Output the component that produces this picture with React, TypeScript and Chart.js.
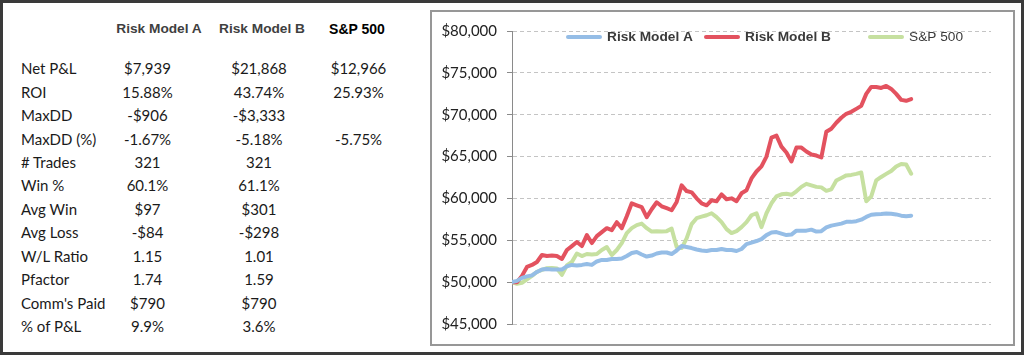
import React, { useEffect, useRef } from "react";
import { Chart, registerables } from "chart.js";

Chart.register(...registerables);

// ---------- data ----------
const seriesNames = ["Risk Model A", "Risk Model B", "S&P 500"];

const riskModelA = [
  50000, 50150, 50510, 50690, 50810, 51220, 51520, 51580, 51520, 51520, 51520,
  51880, 52060, 52000, 52060, 52170, 52060, 52470, 52650, 52650, 52770, 52770,
  52830, 53120, 53480, 53600, 53300, 53060, 53180, 53420, 53540, 53540, 53360,
  53780, 54310, 54190, 54070, 53900, 53780, 53720, 53840, 53840, 53960, 53840,
  53840, 53720, 53960, 54550, 54730, 54910, 55140, 55620, 55920, 55980, 55800,
  55620, 55680, 56150, 56150, 56150, 56270, 56040, 56090, 56530, 56750, 56870,
  56990, 57200, 57200, 57280, 57460, 57790, 58050, 58110, 58130, 58200, 58170,
  58090, 57940, 57880, 57940,
];

const riskModelB = [
  50000, 49980, 50750, 51820, 52050, 52410, 53240, 53120, 53180, 53120, 52770,
  53840, 54310, 54790, 54310, 55620, 54670, 55500, 55980, 56450, 56210, 57160,
  56450, 57880, 59420, 59180, 58950, 57760, 58710, 59540, 59060, 58830, 58590,
  59580, 61560, 60880, 60730, 60010, 59420, 59180, 59780, 59660, 60490, 59900,
  60010, 59660, 60610, 60970, 62390, 63220, 63820, 65000, 67260, 67500, 66190,
  65480, 64410, 66070, 66070, 65600, 65240, 65120, 64890, 67970, 68330, 69040,
  69640, 70110, 70350, 70700, 71060, 72490, 73320, 73320, 73200, 73440, 73080,
  72490, 71770, 71660, 71870,
];

const sp500 = [
  50000, 49800, 49920, 50330, 50750, 51220, 51460, 51660, 51700, 51640, 50870,
  52000, 52410, 53420, 53120, 53360, 53300, 53360, 53840, 54190, 53240, 53840,
  54670, 55860, 56450, 56810, 56990, 56450, 56040, 56090, 56040, 56090, 56390,
  54190, 54070, 55230, 56930, 57640, 57820, 57990, 58230, 57760, 57160, 56330,
  55860, 56090, 56570, 57160, 57990, 58230, 56570, 58230, 59420, 60250, 60490,
  60550, 60430, 60850, 61380, 61740, 61560, 61380, 61320, 60910, 61080, 62150,
  62450, 62750, 62810, 62930, 63100, 59660, 60250, 62150, 62570, 62930, 63280,
  63820, 64110, 64050, 62950,
];

const seriesValues = [riskModelA, riskModelB, sp500];
const seriesColors = ["#95bde6", "#e3525f", "#c6e0a0"];

const xSlots = 96; // x axis extends past the last data point
const yMin = 45000;
const yMax = 80000;
const yStep = 5000;

const tableHeaders = ["Risk Model A", "Risk Model B", "S&P 500"];
const rowLabels = [
  "Net P&L",
  "ROI",
  "MaxDD",
  "MaxDD (%)",
  "# Trades",
  "Win %",
  "Avg Win",
  "Avg Loss",
  "W/L Ratio",
  "Pfactor",
  "Comm's Paid",
  "% of P&L",
];
const colA = ["$7,939", "15.88%", "-$906", "-1.67%", "321", "60.1%", "$97", "-$84", "1.15", "1.74", "$790", "9.9%"];
const colB = ["$21,868", "43.74%", "-$3,333", "-5.18%", "321", "61.1%", "$301", "-$298", "1.01", "1.59", "$790", "3.6%"];
const colSP = ["$12,966", "25.93%", "", "-5.75%", "", "", "", "", "", "", "", ""];

// ---------- layout ----------
const TABLE_FONT = "Lato, 'Noto Sans', sans-serif";
const HEAD_FONT = "'Liberation Sans', Arial, sans-serif";
const ROW_Y0 = 68.3;
const ROW_STEP = 23.43;
const COL_CENTERS = [147.5, 259, 358.5];
const HEAD_CENTERS = [159, 262, 357];
const LEGEND_POS = [134, 272, 436];

const fmtMoney = (v: number) => "$" + Math.round(v).toLocaleString("en-US");

const legendPlugin = {
  id: "excelLegend",
  afterDraw(chart: any) {
    const ctx = chart.ctx as CanvasRenderingContext2D;
    const y = 25;
    chart.data.datasets.forEach((ds: any, i: number) => {
      const x = LEGEND_POS[i];
      ctx.save();
      ctx.strokeStyle = ds.borderColor;
      ctx.lineWidth = 4;
      ctx.lineCap = "round";
      ctx.beginPath();
      ctx.moveTo(x + 2, y);
      ctx.lineTo(x + 34, y);
      ctx.stroke();
      ctx.fillStyle = "#3a3a3a";
      ctx.font = (i < 2 ? "bold " : "") + "13.7px " + HEAD_FONT;
      ctx.textBaseline = "middle";
      ctx.textAlign = "left";
      ctx.fillText(ds.label, x + 41, y + 0.5);
      ctx.restore();
    });
  },
};

function EquityChart() {
  const ref = useRef<HTMLCanvasElement | null>(null);
  useEffect(() => {
    if (!ref.current) return;
    const chart = new Chart(ref.current, {
      type: "line",
      data: {
        datasets: seriesNames.map((name, i) => ({
          label: name,
          data: seriesValues[i].map((v, k) => ({ x: k, y: v })),
          borderColor: seriesColors[i],
          backgroundColor: seriesColors[i],
          borderWidth: 4,
          pointRadius: 0,
          tension: 0,
          borderCapStyle: "round" as const,
          borderJoinStyle: "round" as const,
          fill: false,
        })),
      },
      options: {
        responsive: false,
        animation: false,
        layout: { padding: { top: 17, bottom: 20, right: 22, left: 0 } },
        plugins: {
          legend: { display: false },
          tooltip: { enabled: false },
        },
        scales: {
          x: {
            type: "linear",
            min: 0,
            max: xSlots,
            display: false,
          },
          y: {
            min: yMin,
            max: yMax,
            afterFit(scale: any) {
              scale.width = 80;
            },
            ticks: {
              stepSize: yStep,
              padding: 10,
              color: "#222",
              font: { family: TABLE_FONT, size: 15 },
              callback: (v: any) => fmtMoney(Number(v)),
            },
            grid: {
              color: "#c4c4c4",
              lineWidth: 1,
              tickColor: "#8a8a8a",
              tickLength: 5,
              tickBorderDash: [],
            },
            border: {
              display: true,
              color: "#8a8a8a",
              width: 1,
              dash: [4, 3],
            },
          },
        },
      },
      plugins: [legendPlugin],
    });
    return () => chart.destroy();
  }, []);
  return <canvas ref={ref} width={581} height={332} style={{ width: 581, height: 332, display: "block" }} />;
}

export default function App() {
  const cellBase: React.CSSProperties = {
    position: "absolute",
    height: 20,
    lineHeight: "20px",
    whiteSpace: "nowrap",
    fontFamily: TABLE_FONT,
    fontSize: 15,
    color: "#1a1a1a",
  };
  return (
    <div
      style={{
        position: "absolute",
        left: 0,
        top: 0,
        width: 1024,
        height: 355,
        background: "#fff",
        overflow: "hidden",
      }}
    >
      {tableHeaders.map((h, i) => (
        <div
          key={"h" + i}
          style={{
            ...cellBase,
            left: HEAD_CENTERS[i] - 60,
            width: 120,
            top: 29 - 10,
            textAlign: "center",
            fontFamily: HEAD_FONT,
            fontWeight: "bold",
            fontSize: i === 2 ? 14 : 13.7,
            color: i === 2 ? "#000" : "#3f3f3f",
          }}
        >
          {h}
        </div>
      ))}
      {rowLabels.map((lab, r) => {
        const top = ROW_Y0 + r * ROW_STEP - 10;
        const vals = [colA[r], colB[r], colSP[r]];
        return (
          <React.Fragment key={"r" + r}>
            <div style={{ ...cellBase, left: 21, top }}>{lab}</div>
            {vals.map((v, c) => (
              <div
                key={c}
                style={{ ...cellBase, left: COL_CENTERS[c] - 50, width: 100, top, textAlign: "center" }}
              >
                {v}
              </div>
            ))}
          </React.Fragment>
        );
      })}
      <div
        style={{
          position: "absolute",
          left: 430,
          top: 10,
          width: 585,
          height: 336,
          boxSizing: "border-box",
          border: "2px solid #979797",
          background: "#fff",
        }}
      />
      <div style={{ position: "absolute", left: 432, top: 12, width: 581, height: 332 }}>
        <EquityChart />
      </div>
      <div
        style={{
          position: "absolute",
          left: 0,
          top: 0,
          width: 1024,
          height: 355,
          boxSizing: "border-box",
          border: "3px solid #3a3a3a",
          pointerEvents: "none",
        }}
      />
    </div>
  );
}
